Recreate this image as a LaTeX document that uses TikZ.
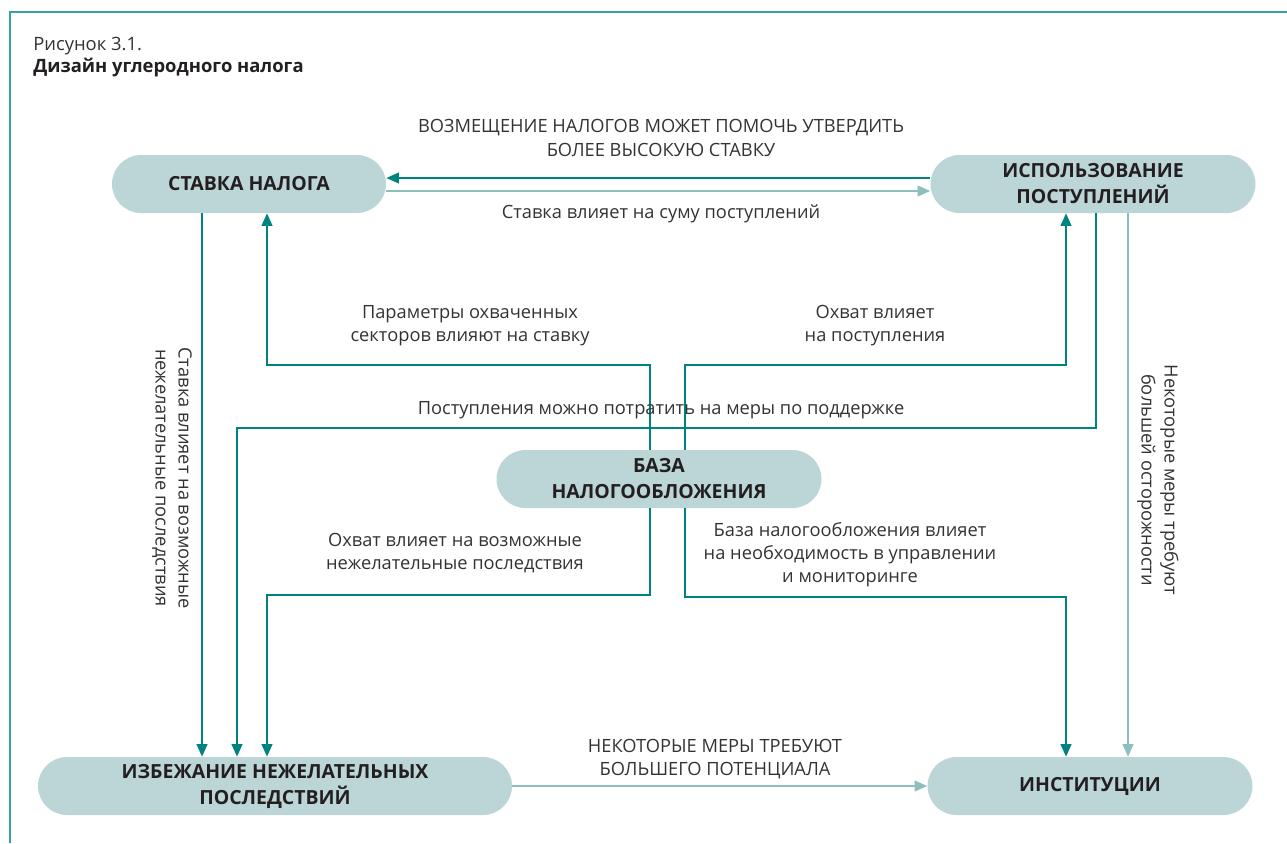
\documentclass[tikz,border=0pt]{standalone}
\usepackage{fontspec}
\setmainfont{Open Sans}
\usetikzlibrary{arrows.meta, calc, positioning}
\definecolor{frameteal}{RGB}{58,160,160}
\definecolor{deepteal}{RGB}{0,130,127}
\definecolor{paleteal}{RGB}{143,190,190}
\definecolor{boxfill}{RGB}{188,213,215}
\definecolor{inkgray}{RGB}{35,31,32}
\definecolor{labelgray}{RGB}{51,51,51}
\begin{document}
\begin{tikzpicture}[x=0.75pt, y=-0.75pt,
  box/.style={fill=boxfill, rounded corners=21.75pt, minimum height=43.5pt, align=center, text=inkgray, font=\fontsize{14.6}{19.5}\selectfont\bfseries, inner sep=0pt},
  lbl/.style={align=center, text=labelgray, font=\fontsize{13.7}{17.3}\selectfont, inner sep=0pt},
  darr/.style={draw=deepteal, line width=1.6pt, -{Triangle[length=9.5pt, width=8pt]}},
  larr/.style={draw=paleteal, line width=1.6pt, -{Triangle[length=9.5pt, width=8pt]}}
]
\useasboundingbox (0,0) rectangle (1287,843);
\draw[frameteal, line width=1.5pt] (10,843) -- (10,12) -- (1287,12);
\node[anchor=west, text=labelgray, font=\fontsize{13.8}{16}\selectfont, inner sep=0pt] (fignum) at (33,46) {Рисунок 3.1.};
\node[anchor=west, text=inkgray, font=\fontsize{13.8}{16}\selectfont\bfseries, inner sep=0pt] (figtitle) at (33,68) {Дизайн углеродного налога};

\node[box, minimum width=205.5pt] (rate) at (249,184) {СТАВКА НАЛОГА};
\node[box, minimum width=243.75pt] (use) at (1093,184) {ИСПОЛЬЗОВАНИЕ\\ПОСТУПЛЕНИЙ};
\node[box, minimum width=243.75pt] (base) at (659,479) {БАЗА\\НАЛОГООБЛОЖЕНИЯ};
\node[box, minimum width=355.5pt] (avoid) at (275,786) {ИЗБЕЖАНИЕ НЕЖЕЛАТЕЛЬНЫХ\\ПОСЛЕДСТВИЙ};
\node[box, minimum width=243.75pt] (inst) at (1090,786) {ИНСТИТУЦИИ};

\draw[darr] ([yshift=4.5pt]use.west) -- ([yshift=4.5pt]rate.east);
\draw[larr] ([yshift=-5.25pt]rate.east) -- ([yshift=-5.25pt]use.west);
\draw[darr] ([xshift=-35.25pt]rate.south) coordinate (r1) -- (r1 |- avoid.north);
\draw[darr] ([xshift=-6.75pt]base.north) -- ++(0,-85) -| ([xshift=13.5pt]rate.south);
\draw[darr] ([xshift=19.5pt]base.north) -- ++(0,-85) -| ([xshift=-20.25pt]use.south);
\draw[darr] ([xshift=2.25pt]use.south) -- ++(0,215) -| ([xshift=-28.5pt]avoid.north);
\draw[larr] ([xshift=26.25pt]use.south) coordinate (u2) -- (u2 |- inst.north);
\draw[darr] ([xshift=-6.75pt]base.south) -- ++(0,87) -| ([xshift=-6pt]avoid.north);
\draw[darr] ([xshift=19.5pt]base.south) -- ++(0,89) -| ([xshift=-18pt]inst.north);
\draw[larr] (avoid.east) -- (inst.west);

\node[lbl] (refund) at (661,138) {ВОЗМЕЩЕНИЕ НАЛОГОВ МОЖЕТ ПОМОЧЬ УТВЕРДИТЬ\\БОЛЕЕ ВЫСОКУЮ СТАВКУ};
\node[lbl] (ratesum) at (661,214) {Ставка влияет на суму поступлений};
\node[lbl, rotate=-90] (rateavoid) at (172,478) {Ставка влияет на возможные\\нежелательные последствия};
\node[lbl] (sectors) at (470,326) {Параметры охваченных\\секторов влияют на ставку};
\node[lbl] (coverrev) at (875,326) {Охват влияет\\на поступления};
\node[lbl] (support) at (661,410) {Поступления можно потратить на меры по поддержке};
\node[lbl, rotate=-90] (caution) at (1158,480) {Некоторые меры требуют\\большей осторожности};
\node[lbl] (coveravoid) at (455,553) {Охват влияет на возможные\\нежелательные последствия};
\node[lbl] (monitor) at (850,555) {База налогообложения влияет\\на необходимость в управлении\\и мониторинге};
\node[lbl] (capacity) at (715,759) {НЕКОТОРЫЕ МЕРЫ ТРЕБУЮТ\\БОЛЬШЕГО ПОТЕНЦИАЛА};
\end{tikzpicture}
\end{document}
